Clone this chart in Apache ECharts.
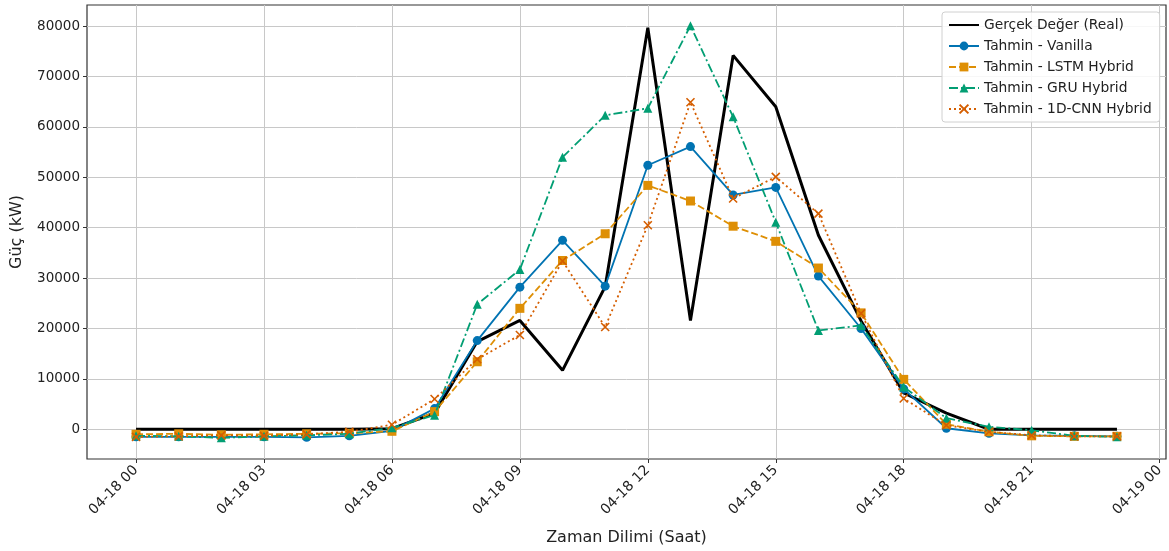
<!DOCTYPE html>
<html>
<head>
<meta charset="utf-8">
<script src="https://cdn.jsdelivr.net/npm/echarts@6/dist/echarts.min.js"></script>
<style>
html,body{margin:0;padding:0;background:#fff;}
#chart{width:1169px;height:551px;}
</style>
</head>
<body>
<div id="chart"></div>
<script>
// hours of 2024-04-18 (0..23)
const hours = [0,1,2,3,4,5,6,7,8,9,10,11,12,13,14,15,16,17,18,19,20,21,22,23];
const real    = [0,0,0,0,0,0,100,3200,17400,21600,11700,28300,79700,21600,74200,64000,38500,21500,7200,3200,0,0,0,0];
const vanilla = [-1500,-1500,-1500,-1500,-1600,-1300,-300,4100,17600,28200,37500,28400,52400,56100,46500,48000,30400,20000,8000,200,-800,-1200,-1300,-1400];
const lstm    = [-1000,-900,-1100,-1000,-900,-800,-400,3500,13400,24000,33500,38800,48400,45300,40300,37300,32000,23100,9900,1000,-500,-1300,-1400,-1400];
const gru     = [-1300,-1400,-1700,-1400,-1200,-900,300,2800,24800,31700,54000,62300,63700,80100,62000,41100,19600,20600,8400,2200,500,-200,-1300,-1500];
const cnn     = [-1500,-1400,-1200,-1300,-1000,-500,900,6000,13900,18700,33400,20300,40500,64900,45800,50100,42800,23000,6100,800,-500,-1200,-1400,-1400];

const seriesNames = ['Gerçek Değer (Real)','Tahmin - Vanilla','Tahmin - LSTM Hybrid','Tahmin - GRU Hybrid','Tahmin - 1D-CNN Hybrid'];
const xTickHours = [0,3,6,9,12,15,18,21,24];
const xTickLabels = ['04-18 00','04-18 03','04-18 06','04-18 09','04-18 12','04-18 15','04-18 18','04-18 21','04-19 00'];
const yTicks = [0,10000,20000,30000,40000,50000,60000,70000,80000];

const pairs = arr => hours.map((h,i)=>[h,arr[i]]);
const FONT = 'DejaVu Sans';
const xPath = 'path://M0,0 L10,10 M10,0 L0,10';

const chart = echarts.init(document.getElementById('chart'), null, {renderer:'canvas'});
chart.setOption({
  animation:false,
  backgroundColor:'#fff',
  textStyle:{fontFamily:FONT},
  grid:{left:87,right:3,top:5,bottom:92,show:true,borderColor:'#333',borderWidth:1.2,containLabel:false,outerBoundsMode:'none'},
  legend:{
    orient:'vertical', left:942, top:12,
    itemWidth:30, itemHeight:11, itemGap:7,
    backgroundColor:'rgba(255,255,255,0.85)', borderColor:'#d0d0d0', borderWidth:1, borderRadius:3,
    padding:[6,8,6,6],
    textStyle:{fontFamily:FONT,fontSize:13.8,color:'#222'},
    data:[{name:seriesNames[0],itemStyle:{opacity:0}},seriesNames[1],seriesNames[2],seriesNames[3],seriesNames[4]]
  },
  xAxis:{
    type:'value', min:-1.15, max:24.15,
    name:'Zaman Dilimi (Saat)', nameLocation:'middle', nameGap:71,
    nameTextStyle:{fontFamily:FONT,fontSize:16,color:'#222'},
    axisLine:{show:false,onZero:false},
    axisTick:{show:true,length:4,lineStyle:{color:'#333'},customValues:xTickHours},
    axisLabel:{rotate:45,margin:9,fontFamily:FONT,fontSize:14,color:'#222',customValues:xTickHours,
      formatter:v=>{const i=xTickHours.indexOf(v);return i>=0?xTickLabels[i]:'';}},
    splitLine:{show:true,lineStyle:{color:'#c8c8c8',width:1}}
  },
  yAxis:{
    type:'value', min:-5900, max:84200,
    name:'Güç (kW)', nameLocation:'middle', nameGap:62,
    nameTextStyle:{fontFamily:FONT,fontSize:16,color:'#222'},
    axisLine:{show:false,onZero:false},
    axisTick:{show:true,length:4,lineStyle:{color:'#333'},customValues:yTicks},
    axisLabel:{margin:7,fontFamily:FONT,fontSize:13.5,color:'#222',customValues:yTicks,formatter:v=>String(v)},
    splitLine:{show:true,lineStyle:{color:'#c8c8c8',width:1}}
  },
  series:[
    {name:seriesNames[0],type:'line',data:pairs(real),symbol:'none',
      lineStyle:{color:'#000',width:3},itemStyle:{color:'#000'},z:2},
    {name:seriesNames[1],type:'line',data:pairs(vanilla),symbol:'circle',symbolSize:9,
      lineStyle:{color:'#0173b2',width:1.8},itemStyle:{color:'#0173b2'},z:3},
    {name:seriesNames[2],type:'line',data:pairs(lstm),symbol:'rect',symbolSize:9,
      lineStyle:{color:'#de8f05',width:1.8,type:[7,3]},itemStyle:{color:'#de8f05'},z:4},
    {name:seriesNames[3],type:'line',data:pairs(gru),symbol:'triangle',symbolSize:9,
      lineStyle:{color:'#029e73',width:1.8,type:[9,3,2,3]},itemStyle:{color:'#029e73'},z:5},
    {name:seriesNames[4],type:'line',data:pairs(cnn),symbol:xPath,symbolSize:8,
      lineStyle:{color:'#d55e00',width:1.8,type:[2,3]},
      itemStyle:{color:'rgba(0,0,0,0)',borderColor:'#d55e00',borderWidth:1.6},z:6}
  ]
});
</script>
</body>
</html>
